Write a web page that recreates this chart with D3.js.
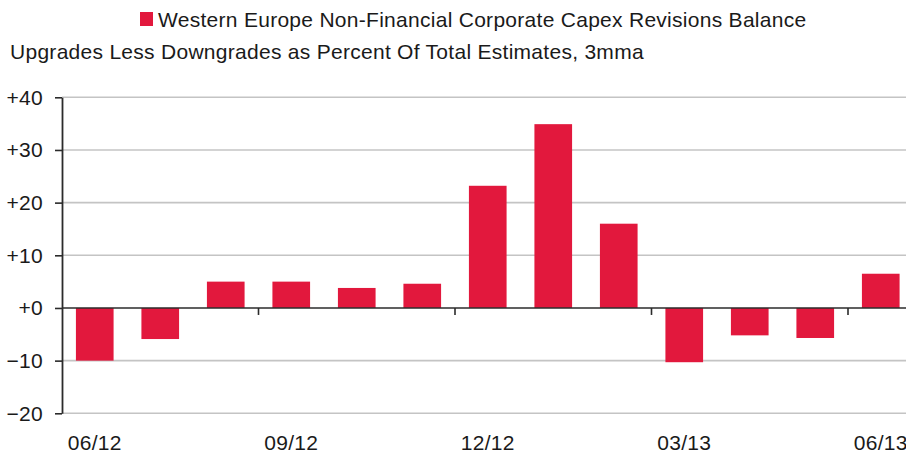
<!DOCTYPE html>
<html>
<head>
<meta charset="utf-8">
<script src="https://cdn.jsdelivr.net/npm/d3@7"></script>
<style>
  body { margin: 0; background: #fff; }
  text { font-family: "Liberation Sans", Arial, sans-serif; fill: #1a1a1a; letter-spacing: 0.28px; }
</style>
</head>
<body>
<svg width="906" height="457"></svg>
<script>
// data
var months = ["06/12", "07/12", "08/12", "09/12", "10/12", "11/12", "12/12",
              "01/13", "02/13", "03/13", "04/13", "05/13", "06/13"];
var balance = [-10.0, -5.9, 5.0, 5.0, 3.8, 4.6, 23.2, 34.9, 16.0, -10.3, -5.2, -5.7, 6.5];
var yTicks = [-20, -10, 0, 10, 20, 30, 40];
var xLabels = ["06/12", "09/12", "12/12", "03/13", "06/13"];

var seriesName = "Western Europe Non-Financial Corporate Capex Revisions Balance";
var subTitle = "Upgrades Less Downgrades as Percent Of Total Estimates, 3mma";

var red = "#e2183d";

function main() {
    var svg = d3.select("svg"),
        left = 62,
        top = 97.3,
        bottom = 413.3,
        right = 906,
        step = 65.5;

    var xScale = d3.scaleBand()
            .domain(months)
            .range([left, left + step * months.length])
            .paddingInner(0.425)
            .paddingOuter(0.2125),
        yScale = d3.scaleLinear().domain([-20, 40]).range([bottom, top]);

    var gap = (xScale.step() - xScale.bandwidth()) / 2;

    // legend + subtitle
    svg.append("rect")
        .attr("x", 140).attr("y", 12)
        .attr("width", 13).attr("height", 14)
        .attr("fill", red);
    svg.append("text")
        .attr("x", 158).attr("y", 27)
        .attr("font-size", "21px")
        .text(seriesName);
    svg.append("text")
        .attr("x", 10).attr("y", 59)
        .attr("font-size", "21px")
        .text(subTitle);

    // grid lines
    svg.append("g")
        .selectAll("line")
        .data(yTicks.filter(function(d) { return d != 0; }))
        .enter().append("line")
        .attr("x1", left).attr("x2", right)
        .attr("y1", function(d) { return yScale(d); })
        .attr("y2", function(d) { return yScale(d); })
        .attr("stroke", "#c4c4c4")
        .attr("stroke-width", 1.6);

    // bars
    svg.append("g")
        .selectAll(".bar")
        .data(balance)
        .enter().append("rect")
        .attr("class", "bar")
        .attr("x", function(d, i) { return xScale(months[i]); })
        .attr("y", function(d) { return yScale(Math.max(0, d)); })
        .attr("width", xScale.bandwidth())
        .attr("height", function(d) { return Math.abs(yScale(d) - yScale(0)); })
        .attr("fill", red);

    // zero line with quarter ticks
    var zero = svg.append("g").attr("id", "zero-axis");
    zero.append("line")
        .attr("x1", left).attr("x2", right)
        .attr("y1", yScale(0)).attr("y2", yScale(0))
        .attr("stroke", "#2b2b2b")
        .attr("stroke-width", 1.6);
    zero.selectAll(".qtick")
        .data(xLabels.slice(1))
        .enter().append("line")
        .attr("class", "qtick")
        .attr("x1", function(d) { return xScale(d) - gap; })
        .attr("x2", function(d) { return xScale(d) - gap; })
        .attr("y1", yScale(0))
        .attr("y2", yScale(0) + 7)
        .attr("stroke", "#2b2b2b")
        .attr("stroke-width", 1.6);

    // y axis
    var yAxis = svg.append("g")
        .attr("id", "y-axis")
        .attr("transform", "translate(" + left + ",0)")
        .call(d3.axisLeft(yScale)
            .tickValues(yTicks)
            .tickFormat(d3.format("+d"))
            .tickSize(7)
            .tickSizeOuter(0)
            .tickPadding(12));
    yAxis.select(".domain").attr("stroke", "#2b2b2b").attr("stroke-width", 1.8);
    yAxis.selectAll(".tick line").attr("stroke", "#2b2b2b").attr("stroke-width", 1.6);
    yAxis.selectAll("text")
        .attr("font-size", "21px")
        .attr("font-family", "Liberation Sans, Arial, sans-serif")
        .attr("fill", "#1a1a1a");

    // x axis labels
    var xAxis = svg.append("g")
        .attr("id", "x-axis")
        .attr("transform", "translate(0," + bottom + ")")
        .call(d3.axisBottom(xScale)
            .tickValues(xLabels)
            .tickSize(0)
            .tickPadding(22));
    xAxis.select(".domain").remove();
    xAxis.selectAll("text")
        .attr("font-size", "21px")
        .attr("font-family", "Liberation Sans, Arial, sans-serif")
        .attr("fill", "#1a1a1a");
}

main();
</script>
</body>
</html>
